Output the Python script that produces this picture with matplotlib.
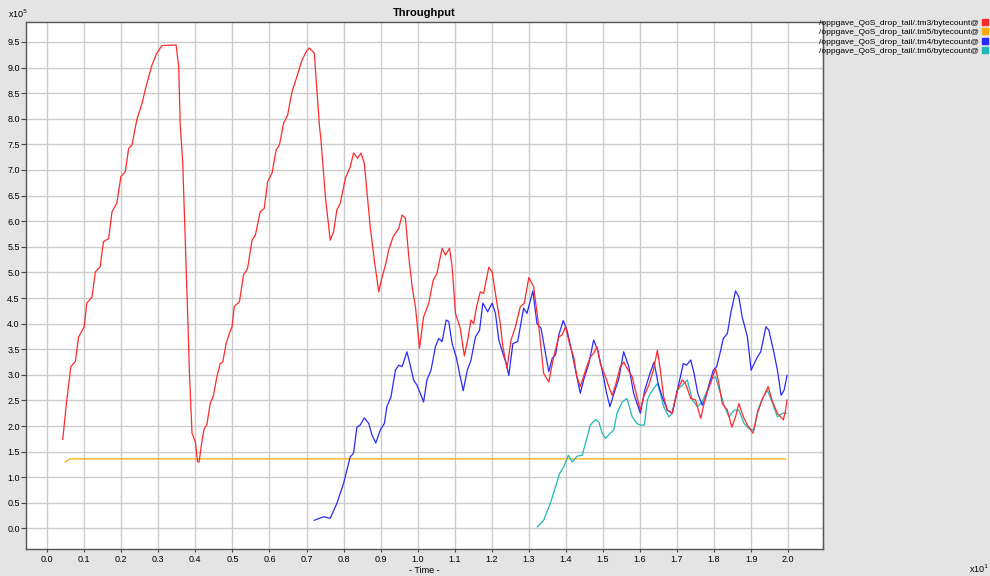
import matplotlib
matplotlib.use("Agg")
import matplotlib.pyplot as plt
from matplotlib.lines import Line2D

plt.rcParams['font.family'] = ['Liberation Sans', 'DejaVu Sans']

# values (x in units of 10, y in units of 10^5)
red_x = [0.042, 0.053, 0.064, 0.076, 0.085, 0.100, 0.107, 0.121, 0.130, 0.143, 0.152, 0.166, 0.175, 0.188,
         0.199, 0.211, 0.220, 0.229, 0.242, 0.256, 0.267, 0.283, 0.296, 0.310, 0.348, 0.355, 0.359, 0.366,
         0.373, 0.380, 0.384, 0.391, 0.400, 0.406, 0.410, 0.418, 0.424, 0.431, 0.440, 0.449, 0.458, 0.467,
         0.474, 0.483, 0.492, 0.499, 0.505, 0.519, 0.530, 0.541, 0.553, 0.562, 0.575, 0.586, 0.595, 0.607,
         0.618, 0.627, 0.638, 0.649, 0.661, 0.674, 0.688, 0.701, 0.708, 0.721, 0.735, 0.739, 0.751, 0.764,
         0.773, 0.782, 0.791, 0.805, 0.818, 0.827, 0.838, 0.847, 0.856, 0.872, 0.883, 0.895, 0.904, 0.913,
         0.922, 0.934, 0.949, 0.958, 0.967, 0.976, 0.985, 0.994, 1.005, 1.016, 1.030, 1.042, 1.052, 1.066,
         1.075, 1.086, 1.093, 1.102, 1.115, 1.126, 1.135, 1.144, 1.151, 1.159, 1.169, 1.178, 1.192, 1.201,
         1.214, 1.223, 1.230, 1.241, 1.252, 1.264, 1.277, 1.288, 1.300, 1.313, 1.327, 1.340, 1.354, 1.367,
         1.381, 1.390, 1.399, 1.412, 1.421, 1.430, 1.439, 1.453, 1.466, 1.475, 1.484, 1.493, 1.507, 1.516,
         1.525, 1.534, 1.547, 1.556, 1.565, 1.579, 1.592, 1.601, 1.610, 1.624, 1.636, 1.647, 1.655, 1.664,
         1.674, 1.687, 1.701, 1.714, 1.723, 1.737, 1.750, 1.764, 1.777, 1.790, 1.804, 1.813, 1.822, 1.836,
         1.848, 1.858, 1.867, 1.879, 1.890, 1.905, 1.917, 1.931, 1.946, 1.958, 1.971, 1.987, 1.993, 1.997]
red_y = [1.74, 2.51, 3.16, 3.26, 3.74, 3.94, 4.40, 4.52, 5.01, 5.11, 5.60, 5.66, 6.18, 6.35,
         6.87, 6.97, 7.42, 7.49, 7.98, 8.30, 8.63, 9.05, 9.28, 9.43, 9.44, 9.02, 7.91, 7.13,
         5.57, 4.00, 3.03, 1.86, 1.69, 1.30, 1.30, 1.72, 1.95, 2.02, 2.44, 2.60, 2.96, 3.22,
         3.25, 3.61, 3.81, 3.94, 4.33, 4.43, 4.95, 5.08, 5.63, 5.73, 6.18, 6.25, 6.77, 6.94,
         7.39, 7.49, 7.91, 8.07, 8.53, 8.82, 9.15, 9.33, 9.38, 9.28, 7.85, 7.59, 6.48, 5.63,
         5.79, 6.22, 6.35, 6.84, 7.06, 7.33, 7.23, 7.33, 7.13, 5.89, 5.24, 4.62, 4.91, 5.14,
         5.44, 5.70, 5.86, 6.12, 6.06, 5.31, 4.72, 4.33, 3.52, 4.13, 4.40, 4.85, 4.98, 5.47,
         5.34, 5.47, 5.11, 4.20, 3.91, 3.37, 3.68, 4.07, 4.00, 4.33, 4.62, 4.59, 5.10, 5.01,
         4.40, 4.00, 3.55, 3.13, 3.68, 3.94, 4.33, 4.40, 4.90, 4.72, 3.94, 3.03, 2.86, 3.35,
         3.74, 3.78, 3.94, 3.55, 3.35, 2.96, 2.77, 3.09, 3.35, 3.42, 3.55, 3.22, 2.96, 2.77,
         2.60, 2.80, 3.16, 3.25, 3.13, 2.96, 2.57, 2.31, 2.57, 2.80, 3.09, 3.48, 3.09, 2.57,
         2.31, 2.25, 2.70, 2.90, 2.83, 2.54, 2.51, 2.15, 2.57, 2.83, 3.13, 2.83, 2.44, 2.31,
         1.98, 2.18, 2.44, 2.18, 2.02, 1.86, 2.25, 2.54, 2.77, 2.47, 2.25, 2.12, 2.31, 2.51]

orange_x = [0.049, 0.062, 0.200, 0.600, 1.000, 1.400, 1.800, 1.993]
orange_y = [1.30, 1.36, 1.36, 1.36, 1.36, 1.36, 1.36, 1.36]

blue_x = [0.721, 0.746, 0.764, 0.782, 0.800, 0.809, 0.818, 0.827, 0.836, 0.845, 0.856, 0.868, 0.877, 0.887,
          0.899, 0.910, 0.917, 0.928, 0.940, 0.949, 0.958, 0.971, 0.980, 0.989, 0.998, 1.007, 1.016, 1.025,
          1.036, 1.048, 1.057, 1.066, 1.077, 1.084, 1.093, 1.104, 1.113, 1.123, 1.134, 1.144, 1.156, 1.167,
          1.176, 1.189, 1.201, 1.210, 1.219, 1.230, 1.239, 1.246, 1.257, 1.270, 1.286, 1.295, 1.311, 1.322,
          1.333, 1.345, 1.354, 1.363, 1.372, 1.381, 1.393, 1.403, 1.417, 1.426, 1.439, 1.448, 1.462, 1.475,
          1.486, 1.498, 1.510, 1.519, 1.530, 1.543, 1.556, 1.570, 1.583, 1.601, 1.613, 1.627, 1.638, 1.649,
          1.660, 1.674, 1.687, 1.701, 1.717, 1.726, 1.737, 1.746, 1.756, 1.768, 1.777, 1.786, 1.798, 1.807,
          1.816, 1.825, 1.836, 1.845, 1.858, 1.867, 1.876, 1.890, 1.900, 1.917, 1.926, 1.940, 1.948, 1.962,
          1.971, 1.981, 1.989, 1.997]
blue_y = [0.16, 0.23, 0.20, 0.49, 0.88, 1.14, 1.40, 1.47, 1.98, 2.02, 2.16, 2.05, 1.82, 1.67,
          1.92, 2.05, 2.38, 2.57, 3.09, 3.19, 3.16, 3.45, 3.19, 2.90, 2.80, 2.64, 2.47, 2.90,
          3.09, 3.55, 3.71, 3.65, 4.07, 4.04, 3.61, 3.35, 3.03, 2.69, 3.09, 3.29, 3.74, 3.87,
          4.40, 4.23, 4.40, 4.20, 3.68, 3.42, 3.22, 2.99, 3.61, 3.65, 4.30, 4.20, 4.64, 4.00,
          3.91, 3.42, 3.06, 3.32, 3.39, 3.78, 4.06, 3.87, 3.42, 3.09, 2.64, 2.90, 3.22, 3.68,
          3.48, 3.09, 2.64, 2.38, 2.64, 2.93, 3.45, 3.16, 2.64, 2.25, 2.70, 3.03, 3.25, 2.83,
          2.57, 2.31, 2.25, 2.70, 3.22, 3.19, 3.29, 3.03, 2.64, 2.41, 2.54, 2.80, 3.09, 3.16,
          3.42, 3.71, 3.81, 4.20, 4.64, 4.52, 4.13, 3.74, 3.09, 3.35, 3.45, 3.94, 3.87, 3.42,
          3.09, 2.60, 2.70, 2.99]

teal_x = [1.323, 1.340, 1.358, 1.372, 1.383, 1.394, 1.407, 1.417, 1.430, 1.444, 1.455, 1.466, 1.480, 1.489,
          1.498, 1.507, 1.520, 1.529, 1.538, 1.552, 1.565, 1.579, 1.592, 1.601, 1.612, 1.620, 1.628, 1.647,
          1.655, 1.664, 1.678, 1.687, 1.701, 1.714, 1.728, 1.741, 1.755, 1.768, 1.782, 1.795, 1.804, 1.816,
          1.827, 1.840, 1.854, 1.867, 1.881, 1.894, 1.908, 1.918, 1.931, 1.944, 1.958, 1.971, 1.985, 1.996]
teal_y = [0.03, 0.16, 0.49, 0.81, 1.07, 1.20, 1.43, 1.30, 1.41, 1.43, 1.72, 2.02, 2.13, 2.08,
          1.86, 1.76, 1.86, 1.92, 2.25, 2.47, 2.54, 2.18, 2.05, 2.02, 2.02, 2.51, 2.64, 2.83,
          2.64, 2.38, 2.18, 2.25, 2.70, 2.80, 2.90, 2.51, 2.38, 2.47, 2.70, 2.93, 2.96, 2.67,
          2.41, 2.18, 2.31, 2.31, 2.05, 1.95, 1.92, 2.31, 2.54, 2.70, 2.44, 2.18, 2.25, 2.25]

series_labels = ['/oppgave_QoS_drop_tail/.tm3/bytecount@', '/oppgave_QoS_drop_tail/.tm5/bytecount@',
                 '/oppgave_QoS_drop_tail/.tm4/bytecount@', '/oppgave_QoS_drop_tail/.tm6/bytecount@']
series_colors = ['#ff2a2a', '#ffaa00', '#2a2aff', '#22b8b8']

x_ticks = [i / 10 for i in range(21)]
y_ticks = [i / 2 for i in range(20)]

fig = plt.figure(figsize=(9.9, 5.76), dpi=100, facecolor='#e4e4e4')
ax = fig.add_axes([0.0263, 0.0469, 0.805, 0.915])
ax.set_facecolor('white')

ax.plot(red_x, red_y, color=series_colors[0], lw=0.9, zorder=3)
ax.plot(orange_x, orange_y, color=series_colors[1], lw=0.9, zorder=2)
ax.plot(blue_x, blue_y, color=series_colors[2], lw=0.9, zorder=2.5)
ax.plot(teal_x, teal_y, color=series_colors[3], lw=0.9, zorder=2.4)

ax.set_xlim(-0.057, 2.094)
ax.set_ylim(-0.40, 9.89)
ax.set_xticks(x_ticks)
ax.set_xticklabels(['%.1f' % t for t in x_ticks])
ax.set_yticks(y_ticks)
ax.set_yticklabels(['%.1f' % t for t in y_ticks])
ax.tick_params(labelsize=6.5, width=0.8, color='#444444')
ax.tick_params(axis='y', length=3.5, pad=1)
ax.tick_params(axis='x', length=2, pad=2)
ax.grid(True, color='#cccccc', lw=1.0)
ax.set_axisbelow(True)
for s in ax.spines.values():
    s.set_color('#555555')
    s.set_linewidth(1.0)

sec = ax.secondary_yaxis('right')
sec.set_yticks(y_ticks)
sec.tick_params(direction='in', length=3, labelright=False, color='#444444')

ax.set_title('Throughput', fontsize=8, fontweight='bold', pad=4)
fig.text(0.4288, 0.002, '- Time -', fontsize=6.5, ha='center', va='bottom')
fig.text(0.008, 0.965, r'x10$^5$', fontsize=6.5, ha='left', va='bottom')
fig.text(0.999, 0.002, r'x10$^1$', fontsize=6.5, ha='right', va='bottom')

handles = [Line2D([], [], ls='none', marker='s', markersize=4, color=c) for c in series_colors]
fig.legend(handles, series_labels, loc='upper right', bbox_to_anchor=(1.003, 0.977),
           frameon=False, markerfirst=False, fontsize=6, labelspacing=0.2,
           handlelength=0.6, handletextpad=0.4, borderpad=0.2)

fig.savefig('out.png', dpi=100, facecolor=fig.get_facecolor())
